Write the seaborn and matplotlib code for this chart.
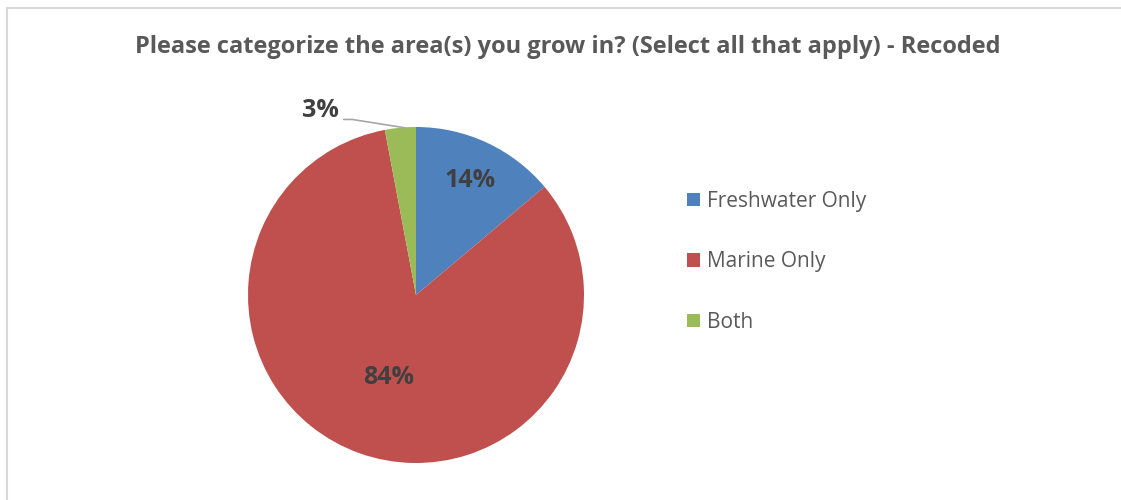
import matplotlib
matplotlib.use("Agg")
import matplotlib.pyplot as plt
from matplotlib.patches import Rectangle
import seaborn as sns

categories = ["Freshwater Only", "Marine Only", "Both"]
shares = [14, 84, 3]
labels = ["14%", "84%", "3%"]
colors = ["#4F81BD", "#C0504D", "#9BBB59"]

sns.set_theme(style="white")
plt.rcParams["font.family"] = ["Open Sans", "DejaVu Sans"]
palette = sns.color_palette(colors)

W, H = 1121, 500
fig = plt.figure(figsize=(W / 100, H / 100), dpi=100)
fig.patch.set_facecolor("white")

# chart frame
fig.patches.append(Rectangle((7 / W, -0.1), 1.2, (500 - 8) / H + 0.1,
                             transform=fig.transFigure, fill=False,
                             edgecolor="#D9D9D9", linewidth=1.5))

cx, cy, r = 416, 295, 168
ax = fig.add_axes([(cx - r) / W, (H - cy - r) / H, 2 * r / W, 2 * r / H])
wedges, _ = ax.pie(shares, colors=palette, startangle=90, counterclock=False,
                   wedgeprops=dict(linewidth=0))
ax.set_aspect("equal")
ax.set_xlim(-1, 1)
ax.set_ylim(-1, 1)
ax.axis("off")

lab_kw = dict(fontsize=18, fontweight="bold", color="#404040",
              ha="center", va="center")
ax.text(0.32, 0.68, labels[0], **lab_kw)
ax.text(-0.16, -0.49, labels[1], **lab_kw)
ax.text(-0.57, 1.10, labels[2], **lab_kw)
ax.plot([-0.43, -0.38, -0.065], [1.045, 1.045, 0.995], color="#A6A6A6",
        linewidth=1.2, clip_on=False)

fig.text(568 / W, 1 - 47 / H,
         "Please categorize the area(s) you grow in? (Select all that apply) - Recoded",
         ha="center", va="center", fontsize=17, fontweight="bold", color="#595959")

handles = [Rectangle((0, 0), 1, 1, facecolor=c, edgecolor="none") for c in palette]
fig.legend(handles, categories, loc="center left",
           bbox_to_anchor=(668 / W, 1 - 262 / H), frameon=False,
           fontsize=15, labelcolor="#595959", handlelength=0.62,
           handleheight=0.62, handletextpad=0.35, labelspacing=1.9)

fig.savefig("out.png", dpi=100)
